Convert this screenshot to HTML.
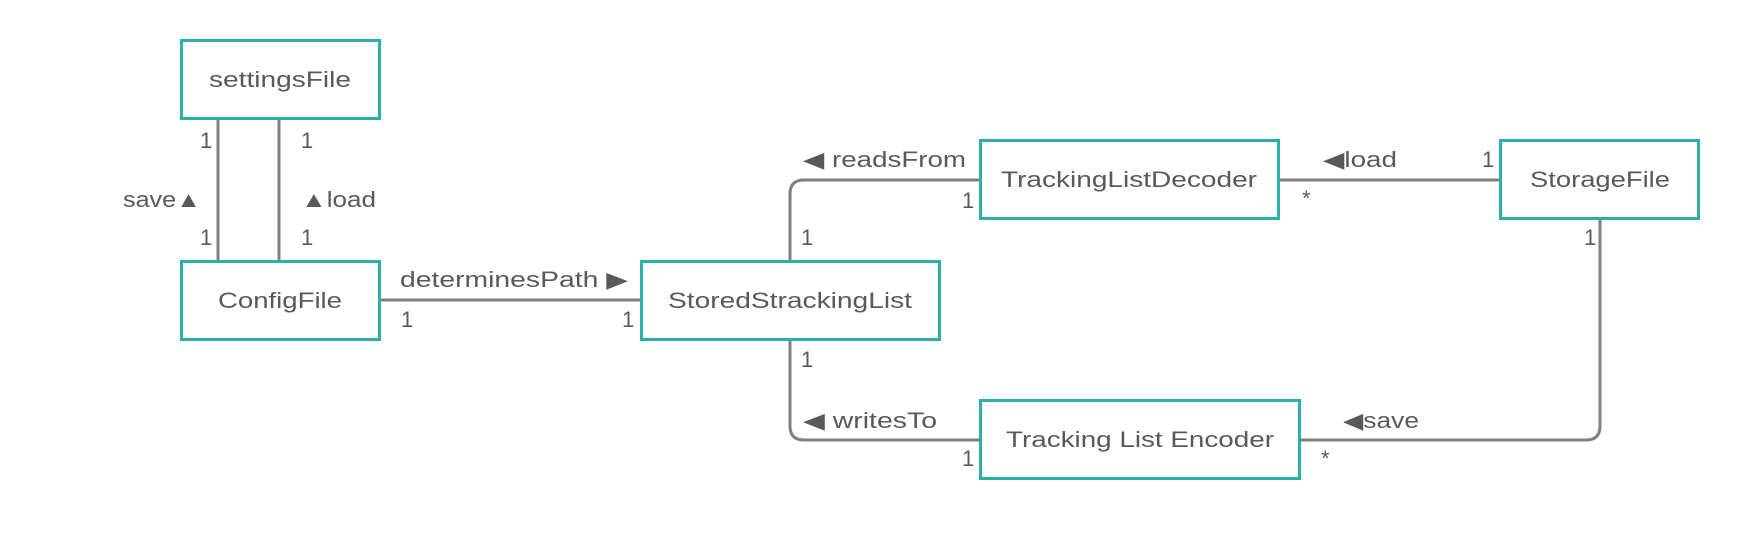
<!DOCTYPE html>
<html><head><meta charset="utf-8"><style>
html,body{margin:0;padding:0;background:#fff;}
svg{display:block;}
text{font-family:"Liberation Sans",sans-serif;font-size:22px;fill:#595959;}
.b{fill:#fff;stroke:#2aafac;stroke-width:3;}
.l{fill:none;stroke:#808080;stroke-width:3;}
.c{text-anchor:middle;}
</style></head><body>
<svg width="1741" height="540" viewBox="0 0 1741 540" xmlns="http://www.w3.org/2000/svg">
<line class="l" x1="218" y1="119" x2="218" y2="260"/>
<line class="l" x1="279" y1="119" x2="279" y2="260"/>
<line class="l" x1="380" y1="300" x2="640" y2="300"/>
<path class="l" d="M790 260 V194 Q790 180 804 180 H979"/>
<line class="l" x1="1280" y1="180" x2="1500" y2="180"/>
<path class="l" d="M1600 219 V426 Q1600 440 1586 440 H1300"/>
<path class="l" d="M790 340 V426 Q790 440 804 440 H979"/>
<rect class="b" x="181.5" y="40.5" width="198" height="78"/>
<rect class="b" x="181.5" y="261.5" width="198" height="78"/>
<rect class="b" x="641.5" y="261.5" width="298" height="78"/>
<rect class="b" x="980.5" y="140.5" width="298" height="78"/>
<rect class="b" x="1500.5" y="140.5" width="198" height="78"/>
<rect class="b" x="980.5" y="400.5" width="319" height="78"/>
<text class="c" x="280" y="87" textLength="142" lengthAdjust="spacingAndGlyphs">settingsFile</text>
<text class="c" x="280" y="308" textLength="124" lengthAdjust="spacingAndGlyphs">ConfigFile</text>
<text class="c" x="790" y="308" textLength="244" lengthAdjust="spacingAndGlyphs">StoredStrackingList</text>
<text class="c" x="1129" y="187" textLength="256" lengthAdjust="spacingAndGlyphs">TrackingListDecoder</text>
<text class="c" x="1600" y="187" textLength="140" lengthAdjust="spacingAndGlyphs">StorageFile</text>
<text class="c" x="1140" y="447" textLength="268" lengthAdjust="spacingAndGlyphs">Tracking List Encoder</text>
<text x="200" y="148">1</text><text x="301" y="148">1</text>
<text x="123" y="207" textLength="78" lengthAdjust="spacingAndGlyphs">save▲</text>
<text x="301" y="207" textLength="75" lengthAdjust="spacingAndGlyphs">▲load</text>
<text x="200" y="245">1</text><text x="301" y="245">1</text>
<text x="400" y="287" textLength="228" lengthAdjust="spacingAndGlyphs">determinesPath ▶</text>
<text x="401" y="327">1</text><text x="622" y="327">1</text>
<text x="803" y="167" textLength="163" lengthAdjust="spacingAndGlyphs">◀ readsFrom</text>
<text x="962" y="208">1</text><text x="801" y="245">1</text>
<text x="1323" y="167" textLength="74" lengthAdjust="spacingAndGlyphs">◀load</text>
<text x="1482" y="167">1</text><text x="1302" y="206">*</text>
<text x="1584" y="245">1</text>
<text x="801" y="367">1</text>
<text x="803" y="428" textLength="134" lengthAdjust="spacingAndGlyphs">◀ writesTo</text>
<text x="1343" y="428" textLength="76" lengthAdjust="spacingAndGlyphs">◀save</text>
<text x="962" y="466">1</text><text x="1321" y="466">*</text>
</svg>
</body></html>
